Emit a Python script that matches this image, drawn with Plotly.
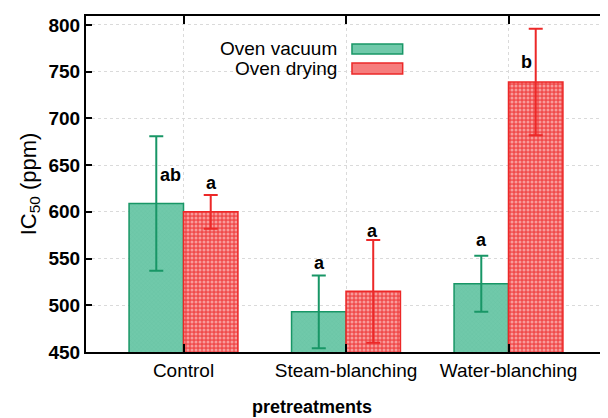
import plotly.graph_objects as go

categories = ["Control", "Steam-blanching", "Water-blanching"]
vacuum_vals = [609, 493, 523]
vacuum_err = [72, 39, 30]
drying_vals = [600, 515, 739]
drying_err = [18, 55, 57]
vacuum_letters = ["ab", "a", "a"]
drying_letters = ["a", "a", "b"]
y_ticks = [450, 500, 550, 600, 650, 700, 750, 800]

FONT = "Liberation Sans, Arial, sans-serif"
GREEN_FILL = "rgb(112,201,170)"
GREEN_DARK = "rgb(24,150,102)"
RED = "rgb(236,40,40)"

fig = go.Figure()
fig.add_trace(go.Bar(
    x=categories, y=vacuum_vals, name="Oven vacuum",
    marker=dict(color=GREEN_FILL, line=dict(color=GREEN_DARK, width=1.5),
                pattern=dict(shape="x", size=3, solidity=0.25,
                             fgcolor="rgb(92,188,155)", bgcolor=GREEN_FILL)),
    error_y=dict(type="data", array=vacuum_err, color=GREEN_DARK, thickness=2, width=7),
))
fig.add_trace(go.Bar(
    x=categories, y=drying_vals, name="Oven drying",
    marker=dict(color="rgb(240,70,70)", line=dict(color=RED, width=1.5),
                pattern=dict(shape=".", size=4, solidity=0.45,
                             fgcolor="rgb(255,235,235)", bgcolor="rgb(240,75,75)")),
    error_y=dict(type="data", array=drying_err, color=RED, thickness=2, width=7),
))

# significance letters: (xshift px, yshift px) relative to the error bar top
vac_place = [(14, -39), (0, 12), (0, 16)]
dry_place = [(1, 12), (0, 9), (-9, -33)]
annotations = []
for i, c in enumerate(categories):
    for vals, errs, letters, place, off in (
        (vacuum_vals, vacuum_err, vacuum_letters, vac_place, -0.165),
        (drying_vals, drying_err, drying_letters, dry_place, 0.165),
    ):
        annotations.append(dict(
            x=i + off, y=vals[i] + errs[i], xref="x", yref="y",
            text=letters[i], showarrow=False, xanchor="center", yanchor="middle",
            xshift=place[i][0], yshift=place[i][1],
            font=dict(family=FONT, size=18, color="black", weight="bold"),
        ))

# legend (text left of swatch), paper coordinates
legend_items = [("Oven vacuum", GREEN_FILL, GREEN_DARK, 0.9018, 0.9167, 0.8869),
                ("Oven drying", "rgb(246,125,125)", RED, 0.8452, 0.8601, 0.8274)]
shapes = []
for name, fill, line, ty, y1, y0 in legend_items:
    annotations.append(dict(x=0.4866, y=ty, xref="paper", yref="paper", text=name,
                            showarrow=False, xanchor="right", yanchor="middle",
                            font=dict(family=FONT, size=19, color="black")))
    shapes.append(dict(type="rect", xref="paper", yref="paper", x0=0.5115, x1=0.609,
                       y0=y0, y1=y1, fillcolor=fill, line=dict(color=line, width=1.5)))

annotations.append(dict(x=0.435, y=0, xref="paper", yref="paper", text="<b>pretreatments</b>",
                        showarrow=False, xanchor="center", yanchor="middle", yshift=-55,
                        font=dict(family=FONT, size=18, color="black")))

# the page body adds an 8px offset, so the figure is 8px smaller and margins shifted
fig.update_layout(
    width=600, height=410,
    margin=dict(l=78, r=0, t=8, b=66),
    paper_bgcolor="white", plot_bgcolor="white",
    barmode="group", bargap=0.33, bargroupgap=0,
    showlegend=False,
    annotations=annotations, shapes=shapes,
    font=dict(family=FONT, size=19, color="black"),
)
fig.update_xaxes(
    type="category", range=[-0.6, 2.6],
    showline=True, linecolor="black", linewidth=2, mirror="ticks",
    ticks="inside", ticklen=8, tickcolor="black", tickwidth=1.5,
    showgrid=True, gridcolor="rgb(218,218,218)", griddash="dot", gridwidth=1,
    tickfont=dict(family=FONT, size=19),
)
fig.update_yaxes(
    range=[450, 809.6], tickvals=y_ticks,
    showline=True, linecolor="black", linewidth=2, mirror="ticks",
    ticks="inside", ticklen=6, tickcolor="black", tickwidth=1.5,
    showgrid=True, gridcolor="rgb(218,218,218)", griddash="dot", gridwidth=1,
    zeroline=False,
    tickfont=dict(family=FONT, size=19, weight="bold"),
    title=dict(text="IC<sub>50</sub> (ppm)", standoff=6, font=dict(family=FONT, size=22)),
)

fig.write_html("out.html")
